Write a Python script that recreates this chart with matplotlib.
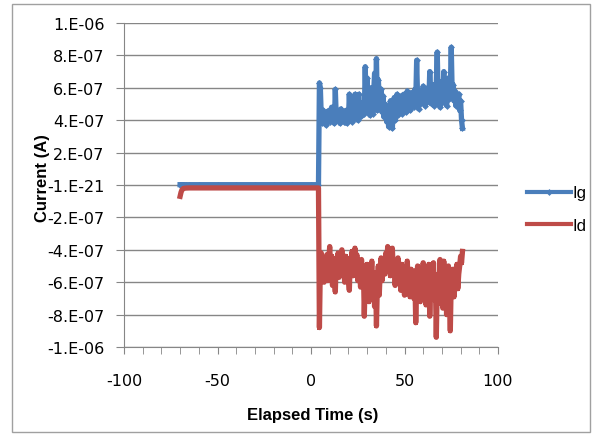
import numpy as np
import matplotlib
matplotlib.use('Agg')
import matplotlib.pyplot as plt
from matplotlib.patches import Rectangle
from matplotlib.ticker import MultipleLocator

# --- data (currents in units of 1e-7 A) ---
t_pre = [-70, -69.5, -69, -68.5, -68, -67, -65, -60, -50, -40, -30, -20, -10, 0, 4]
ig_pre = [0.02, 0.02, 0.02, 0.02, 0.02, 0.02, 0.02, 0.02, 0.02, 0.02, 0.02, 0.02, 0.02, 0.02, 0.02]
id_pre = [-0.7, -0.45, -0.3, -0.24, -0.21, -0.19, -0.18, -0.18, -0.18, -0.18, -0.18, -0.18, -0.18, -0.18, -0.18]

t_post = np.arange(4.5, 81.01, 0.5)
ig_post = [
    6.3, 6.0, 4.2, 3.8, 4.6, 4.0, 4.4, 3.7, 4.5, 4.1,
    4.6, 3.9, 4.3, 4.8, 4.0, 4.5, 3.8, 5.9, 4.2, 4.6,
    4.0, 4.4, 3.8, 4.7, 4.1, 4.5, 3.9, 4.3, 4.6, 3.8,
    4.4, 4.0, 5.6, 4.2, 4.7, 3.9, 4.5, 4.1, 5.6, 4.3,
    4.8, 4.0, 5.6, 4.2, 4.6, 4.9, 4.3, 5.1, 4.4, 7.3,
    4.8, 6.6, 4.5, 5.2, 4.3, 6.0, 5.0, 4.4, 5.6, 6.9,
    5.2, 7.8, 4.6, 6.5, 5.4, 4.8, 5.9, 4.5, 5.5, 4.2,
    5.0, 4.4, 3.9, 4.8, 3.6, 4.6, 5.2, 4.1, 3.5, 4.7,
    5.4, 4.0, 4.9, 5.6, 4.3, 5.1, 4.6, 5.5, 4.4, 5.0,
    5.6, 4.7, 5.3, 4.5, 5.8, 4.9, 5.4, 4.6, 5.7, 5.0,
    5.3, 4.8, 5.9, 5.1, 7.7, 5.4, 4.7, 5.6, 5.0, 5.8,
    5.2, 6.1, 5.5, 4.9, 5.7, 5.3, 6.0, 5.1, 7.0, 5.6,
    5.0, 6.2, 5.4, 4.9, 5.8, 6.3, 8.2, 5.5, 6.0, 4.8,
    5.6, 6.4, 5.1, 7.0, 5.5, 6.1, 4.9, 5.8, 6.6, 5.3,
    6.0, 8.5, 5.7, 6.2, 5.2, 5.8, 4.9, 5.5, 5.0, 5.6,
    4.6, 5.2, 4.0, 3.5,
]
id_post = [
    -8.8, -5.0, -4.2, -5.8, -4.5, -6.0, -4.8, -5.5, -4.3, -5.9,
    -4.6, -3.8, -5.2, -4.4, -6.2, -4.7, -5.6, -6.6, -4.5, -5.3,
    -4.2, -5.7, -4.6, -5.1, -4.0, -5.5, -4.8, -6.0, -4.4, -5.2,
    -4.7, -5.8, -6.5, -4.5, -5.3, -4.1, -5.6, -4.9, -3.9, -5.4,
    -4.3, -5.9, -4.8, -5.2, -6.3, -4.6, -5.5, -5.0, -8.1, -5.7,
    -6.4, -4.9, -5.8, -7.2, -5.1, -6.0, -4.7, -6.6, -5.4, -7.5,
    -5.6, -8.7, -6.1, -5.0, -6.8, -5.3, -4.5, -5.9, -5.0, -4.6,
    -5.5, -4.2, -5.1, -3.8, -4.9, -4.0, -5.6, -4.4, -3.9, -5.3,
    -4.8, -6.2, -5.0, -5.7, -4.5, -6.0, -5.2, -6.5, -4.9, -5.8,
    -5.4, -6.8, -5.1, -6.0, -4.7, -6.3, -5.5, -6.9, -5.2, -6.1,
    -5.6, -7.0, -5.3, -8.5, -6.2, -5.0, -6.6, -5.4, -7.2, -5.8,
    -6.3, -4.8, -6.0, -5.2, -7.4, -5.6, -6.5, -4.9, -8.1, -6.0,
    -5.4, -6.8, -4.8, -7.1, -5.7, -9.4, -6.2, -5.5, -7.3, -4.6,
    -6.0, -5.1, -7.6, -4.7, -6.4, -5.5, -8.0, -6.1, -5.0, -6.7,
    -9.0, -5.8, -6.3, -5.2, -6.9, -5.6, -6.0, -4.9, -6.4, -5.5,
    -5.0, -4.4, -4.8, -4.1,
]

y_ticks = [-1e-6, -8e-7, -6e-7, -4e-7, -2e-7, 0.0, 2e-7, 4e-7, 6e-7, 8e-7, 1e-6]
y_labels = ['-1.E-06', '-8.E-07', '-6.E-07', '-4.E-07', '-2.E-07', '-1.E-21',
            '2.E-07', '4.E-07', '6.E-07', '8.E-07', '1.E-06']

t = np.concatenate([t_pre, t_post])
ig = np.concatenate([ig_pre, ig_post]) * 1e-7
i_d = np.concatenate([id_pre, id_post]) * 1e-7

plt.rcParams['font.family'] = ['DejaVu Sans']
plt.rcParams['axes.unicode_minus'] = False
BLUE = '#4A7EBB'
RED = '#BE4B48'
GREY = '#868686'
LABEL_FONT = ['Liberation Sans', 'DejaVu Sans']

fig = plt.figure(figsize=(5.95, 4.35), dpi=100)
fig.patches.append(Rectangle((12 / 595, 2 / 435), 578 / 595, 428 / 435,
                             transform=fig.transFigure, fill=False,
                             edgecolor='#A0A0A0', lw=1.0))
ax = fig.add_axes([124 / 595, 1 - 348 / 435, 374 / 595, 324 / 435])

ax.plot(t, ig, color=BLUE, lw=3.8, marker='D', ms=3.5, mew=0, label='Ig')
ax.plot(t, i_d, color=RED, lw=3.8, marker='s', ms=3.5, mew=0, label='Id')

ax.set_xlim(-100, 100)
ax.set_ylim(-1e-6, 1e-6)
ax.xaxis.set_major_locator(MultipleLocator(50))
ax.xaxis.set_minor_locator(MultipleLocator(10))
ax.set_yticks(y_ticks)
ax.set_yticklabels(y_labels)
ax.yaxis.grid(True, color=GREY, lw=1.0)
ax.set_axisbelow(True)

for s in ['top', 'right']:
    ax.spines[s].set_visible(False)
for s in ['left', 'bottom']:
    ax.spines[s].set_color(GREY)
ax.tick_params(axis='both', which='both', direction='out', color=GREY,
               labelsize=11.5, labelcolor='black')
ax.tick_params(axis='x', which='major', length=5, pad=14)
ax.tick_params(axis='x', which='minor', length=5)
ax.tick_params(axis='y', length=6, pad=8)

fig.text(313 / 595, 1 - 416 / 435, 'Elapsed Time (s)', fontsize=12,
         fontweight='bold', family=LABEL_FONT, ha='center', va='center')
fig.text(42 / 595, 1 - 178 / 435, 'Current (A)', rotation=90, fontsize=12,
         fontweight='bold', family=LABEL_FONT, ha='center', va='center')

leg = ax.legend(loc='upper left', bbox_to_anchor=(519 / 595, 1 - 178 / 435),
                bbox_transform=fig.transFigure, frameon=False, borderpad=0,
                prop={'family': LABEL_FONT, 'size': 12}, handlelength=2.6,
                handletextpad=0.1, labelspacing=1.05)
for h in leg.legend_handles:
    h.set_linewidth(3.0)

fig.savefig('out.png', dpi=100)
